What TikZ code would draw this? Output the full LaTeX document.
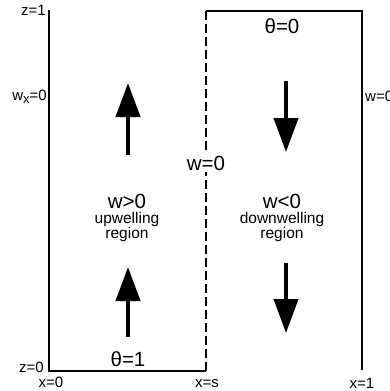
\documentclass[tikz,border=0pt]{standalone}
\usepackage{fontspec}
\setmainfont{Liberation Sans}
\usetikzlibrary{arrows.meta, positioning}

\begin{document}
\begin{tikzpicture}[
    x=1pt, y=-1pt,
    wall/.style   ={line width=1.2pt},
    cut/.style    ={line width=1.2pt, dash pattern=on 9pt off 4pt},
    flowarr/.style={line width=4pt, -{Triangle[width=24pt, length=34pt]}},
    lbl/.style    ={inner sep=0pt, font=\fontsize{15}{15}\selectfont},
    big/.style    ={inner sep=0pt, font=\fontsize{20.5}{20.5}\selectfont},
    reg/.style    ={inner sep=0pt, font=\fontsize{15.5}{15.5}\selectfont},
]
\clip (0,0) rectangle (390,391);
% box corners
\coordinate (bl) at (49,371);
\coordinate (tl) at (49,10);
\coordinate (bs) at (206,371);
\coordinate (ts) at (206,11);
\coordinate (tr) at (362,11);
\coordinate (br) at (362,370);
\draw[wall] (tl) -- (bl) -- (bs);
\draw[cut]  (bs) -- (ts);
\draw[wall] (ts) -- (tr) -- (br);
% axis labels
\node[lbl, anchor=base east] (z1)  at (46,15)  {z=1};
\node[lbl, anchor=base east] (wx)  at (47,100)
     {w\raisebox{-3pt}{\fontsize{13}{13}\selectfont x}=0};
\node[lbl, anchor=base east] (z0)  at (44,372) {z=0};
\node[lbl, anchor=base]      (x0)  at (51,387) {x=0};
\node[lbl, anchor=base]      (xs)  at (207,387){x=s};
\node[lbl, anchor=base]      (x1)  at (362,388){x=1};
\node[lbl, anchor=base west] (wr)  at (365,101){w=0};
% boundary conditions
\node[big, anchor=base] (th0) at (282,33)  {θ=0};
\node[big, anchor=base] (th1) at (128,366) {θ=1};
\node[big, anchor=base, fill=white, inner sep=1.5pt] (wmid) at (206,170) {w=0};
% regions
\node[big, anchor=base, text depth=0pt] (wup) at (127,208) {w>0};
\node[reg, below=15pt of wup.base, anchor=base] (up1) {upwelling};
\node[reg, below=15.5pt of up1.base, anchor=base] (up2) {region};
\node[big, anchor=base, text depth=0pt] (wdn) at (282,208) {w<0};
\node[reg, below=15pt of wdn.base, anchor=base] (dn1) {downwelling};
\node[reg, below=15.5pt of dn1.base, anchor=base] (dn2) {region};
% flow arrows
\draw[flowarr] (128,155) -- (128,83);
\draw[flowarr] (128,337) -- (128,267);
\draw[flowarr] (286,81)  -- (286,152);
\draw[flowarr] (286,263) -- (286,333);
\end{tikzpicture}
\end{document}
